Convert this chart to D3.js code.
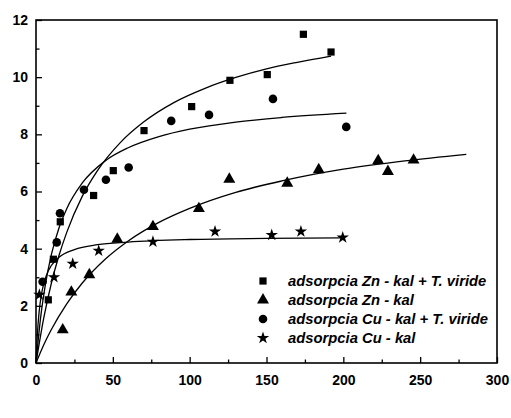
<!DOCTYPE html>
<html>
<head>
<meta charset="utf-8">
<script src="https://cdn.jsdelivr.net/npm/d3@7"></script>
<style>
  body { margin: 0; background: #fff; }
  svg { display: block; font-family: "Liberation Sans", Arial, sans-serif; }
</style>
</head>
<body>
<div id="chart"></div>
<script>
// measured points
const znT = [[8, 2.21], [11.3, 3.63], [15.8, 4.94], [37.5, 5.86], [50.3, 6.73], [70.3, 8.13],
  [101.3, 8.97], [126.2, 9.89], [150.5, 10.09], [174, 11.5], [192, 10.88]];
const znKal = [[17.4, 1.16], [23, 2.48], [34.7, 3.09], [52.9, 4.33], [76.1, 4.77], [106, 5.4],
  [125.8, 6.43], [163.5, 6.29], [184, 6.76], [222.7, 7.08], [229, 6.7], [245.7, 7.1]];
const cuT = [[4.3, 2.84], [13.5, 4.22], [15.6, 5.24], [31.2, 6.06], [45.5, 6.41], [60.3, 6.84],
  [88, 8.47], [112.6, 8.68], [154.2, 9.24], [201.9, 8.26]];
const cuKal = [[2.2, 2.39], [11.7, 3.0], [23.9, 3.47], [40.8, 3.93], [76.1, 4.24], [116.5, 4.6],
  [153.4, 4.48], [172.4, 4.6], [199.6, 4.39]];

// fitted curves
const znTFit = [[0, 0], [5, 1.56], [10, 2.79], [15, 3.77], [20, 4.57], [30, 5.82], [40, 6.73],
  [55, 7.72], [70, 8.43], [90, 9.12], [110, 9.61], [130, 9.99], [150, 10.29], [170, 10.52], [192, 10.74]];
const znKalFit = [[0, 0], [5, 0.63], [10, 1.17], [20, 2.07], [30, 2.79], [45, 3.63], [60, 4.27],
  [80, 4.92], [100, 5.41], [130, 5.97], [160, 6.37], [200, 6.78], [240, 7.07], [280, 7.3]];
const cuTFit = [[0, 0], [3, 1.59], [6, 2.71], [10, 3.79], [15, 4.73], [20, 5.4], [30, 6.29],
  [45, 7.07], [60, 7.53], [80, 7.92], [100, 8.18], [130, 8.43], [160, 8.59], [202, 8.74]];
const cuKalFit = [[0, 0], [1, 1.1], [2, 1.77], [4, 2.53], [7, 3.1], [10, 3.41], [15, 3.7],
  [25, 3.97], [40, 4.14], [60, 4.23], [100, 4.32], [150, 4.36], [200, 4.38]];

const legendLabels = ["adsorpcia Zn - kal + T. viride", "adsorpcia Zn - kal",
  "adsorpcia Cu - kal + T. viride", "adsorpcia Cu - kal"];
const xTicks = [0, 50, 100, 150, 200, 250, 300];
const yTicks = [0, 2, 4, 6, 8, 10, 12];

const W = 511, H = 418;
const margin = { top: 20, right: 14, bottom: 55, left: 36 };
const width = W - margin.left - margin.right,
  height = H - margin.top - margin.bottom;

const svg = d3.select("#chart").append("svg")
  .attr("width", W)
  .attr("height", H);

const g = svg.append("g")
  .attr("transform", `translate(${margin.left},${margin.top})`);

const x = d3.scaleLinear().domain([0, 300]).range([0, width]);
const y = d3.scaleLinear().domain([0, 12]).range([height, 0]);

// frame
g.append("rect")
  .attr("width", width)
  .attr("height", height)
  .attr("fill", "none")
  .attr("stroke", "#000")
  .attr("stroke-width", 1.6);

// x axis, ticks inside
const xAxis = g.append("g")
  .attr("transform", `translate(0,${height})`)
  .call(d3.axisBottom(x).tickValues(xTicks).tickSize(-6).tickPadding(12).tickFormat(d3.format("d")));
xAxis.append("g")
  .call(d3.axisBottom(x).tickValues(d3.range(25, 300, 50)).tickSize(-3.5).tickFormat(""));

const yAxis = g.append("g")
  .call(d3.axisLeft(y).tickValues(yTicks).tickSize(-6).tickPadding(8).tickFormat(d3.format("d")));
yAxis.append("g")
  .call(d3.axisLeft(y).tickValues(d3.range(1, 12, 2)).tickSize(-3.5).tickFormat(""));

svg.selectAll(".domain").remove();
svg.selectAll(".tick line").attr("stroke", "#000").attr("stroke-width", 1.3);
svg.selectAll(".tick text")
  .attr("fill", "#000")
  .style("font-size", "14px")
  .style("font-weight", "bold");

// curves
const line = d3.line()
  .x(d => x(d[0]))
  .y(d => y(d[1]))
  .curve(d3.curveMonotoneX);

[znTFit, znKalFit, cuTFit, cuKalFit].forEach(fit => {
  g.append("path")
    .datum(fit)
    .attr("fill", "none")
    .attr("stroke", "#000")
    .attr("stroke-width", 1.3)
    .attr("d", line);
});

// markers
const series = [
  { data: znT, type: d3.symbolSquare, size: 52 },
  { data: znKal, type: d3.symbolTriangle, size: 62 },
  { data: cuT, type: d3.symbolCircle, size: 58 },
  { data: cuKal, type: d3.symbolStar, size: 48 }
];

series.forEach(s => {
  g.selectAll(null)
    .data(s.data)
    .join("path")
    .attr("transform", d => `translate(${x(d[0])},${y(d[1])})`)
    .attr("d", d3.symbol().type(s.type).size(s.size))
    .attr("fill", "#000");
});

// legend
const legend = svg.append("g")
  .attr("transform", "translate(263,281)");

legendLabels.forEach((label, i) => {
  const row = legend.append("g")
    .attr("transform", `translate(0,${i * 19})`);
  row.append("path")
    .attr("d", d3.symbol().type(series[i].type).size(series[i].size))
    .attr("fill", "#000");
  row.append("text")
    .attr("x", 25)
    .attr("dy", "0.35em")
    .style("font-size", "14.8px")
    .style("font-weight", "bold")
    .style("font-style", "italic")
    .text(label);
});
</script>
</body>
</html>
